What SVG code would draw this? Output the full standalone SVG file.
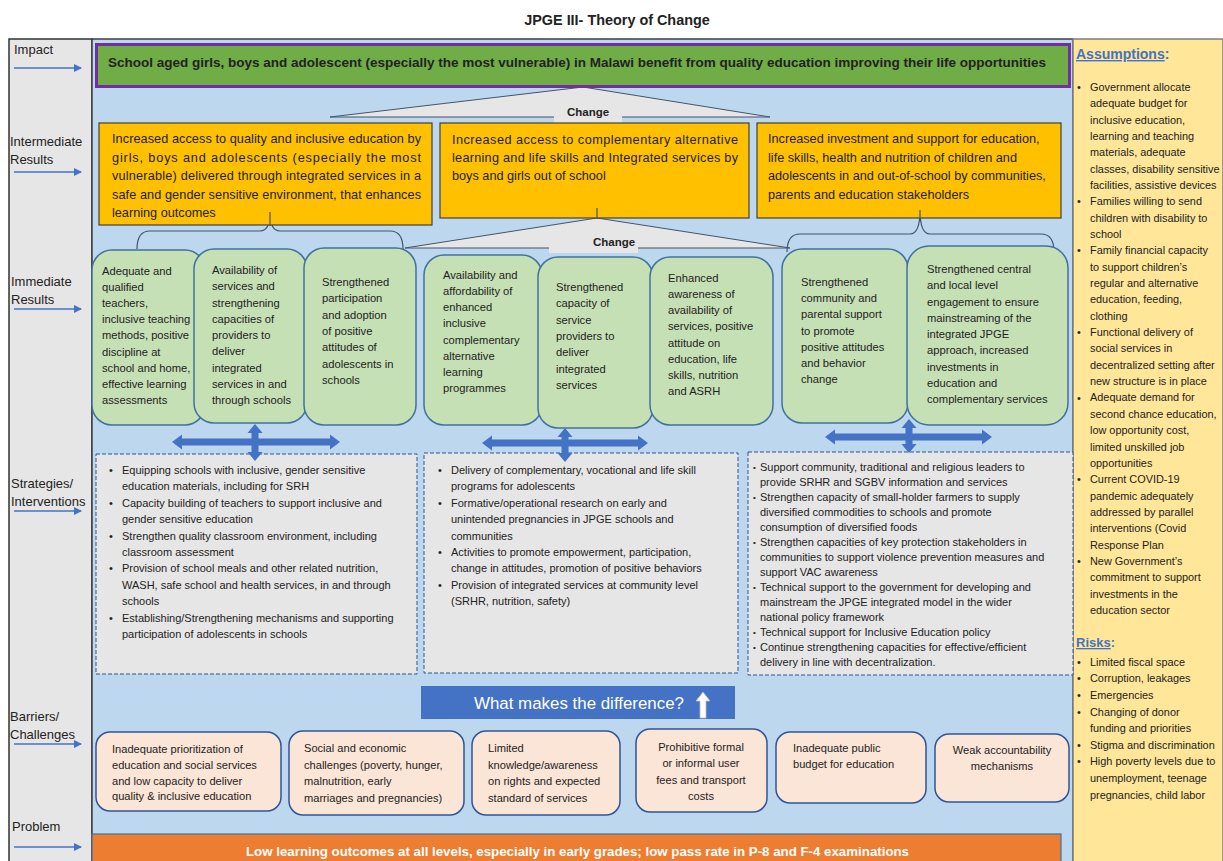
<svg xmlns="http://www.w3.org/2000/svg" width="1223" height="861" viewBox="0 0 1223 861">
<style>
text{font-family:"Liberation Sans",Arial,sans-serif;fill:#222}
.lab{font-size:13px}
.ir{font-size:12.7px}
.g{font-size:11.2px}
.s{font-size:11px}
.a{font-size:10.9px}
.b{font-size:11.1px}
.chg{font-size:11.5px;font-weight:bold}
.green{fill:#C5E0B4;stroke:#41719C;stroke-width:1.5}
.yel{fill:#FFC000;stroke:#404040;stroke-width:1.2}
.dash{fill:#E7E6E6;stroke:#2F5597;stroke-width:1;stroke-dasharray:4 2}
.bar{fill:#FBE5D6;stroke:#2F5597;stroke-width:1.5}
.dbl{fill:#4472C4}
.brace{fill:none;stroke:#44546A;stroke-width:1.2}
.tri{fill:#E7E6E6;stroke:#44546A;stroke-width:1}
.side{stroke:#4472C4;stroke-width:1.5;marker-end:url(#ah)}
.hd{font-weight:bold;fill:#4472C4}
</style>
<defs>
<marker id="ah" markerWidth="8" markerHeight="8" refX="7" refY="4" orient="auto" markerUnits="userSpaceOnUse">
<path d="M0,0 L8,4 L0,8 z" fill="#4472C4"/>
</marker>
</defs>
<rect width="1223" height="861" fill="#fff"/>
<text x="617" y="25" text-anchor="middle" font-size="14.4" font-weight="bold">JPGE III- Theory of Change</text>

<g id="left-panel">
<rect x="9" y="39" width="83" height="830" fill="#E7E6E6" stroke="#333" stroke-width="1.5"/>
<text class="lab" x="14" y="53.5">Impact</text>
<text class="lab" x="10" y="145.5">Intermediate</text>
<text class="lab" x="10" y="163.5">Results</text>
<text class="lab" x="11" y="285.5">Immediate</text>
<text class="lab" x="11" y="303.5">Results</text>
<text class="lab" x="11" y="487.5">Strategies/</text>
<text class="lab" x="11" y="505.5">Interventions</text>
<text class="lab" x="10" y="720.5">Barriers/</text>
<text class="lab" x="10" y="738.5">Challenges</text>
<text class="lab" x="12" y="830.5">Problem</text>
</g>
<rect id="main-panel" x="92" y="39" width="981" height="830" fill="#BDD7EE" stroke="#404040" stroke-width="1.5"/>

<g id="assumptions">
<rect x="1073" y="39" width="150" height="830" fill="#FFE699" stroke="#7F7F7F" stroke-width="1.5"/>
<text x="1076" y="59" font-size="14" class="hd"><tspan text-decoration="underline">Assumptions</tspan>:</text>
<text class="a">
<tspan x="1090" y="90.8">Government allocate</tspan>
<tspan x="1090" dy="16.35">adequate budget for</tspan>
<tspan x="1090" dy="16.35">inclusive education,</tspan>
<tspan x="1090" dy="16.35">learning and teaching</tspan>
<tspan x="1090" dy="16.35">materials, adequate</tspan>
<tspan x="1090" dy="16.35">classes, disability sensitive</tspan>
<tspan x="1090" dy="16.35">facilities, assistive devices</tspan>
<tspan x="1090" dy="16.35">Families willing to send</tspan>
<tspan x="1090" dy="16.35">children with disability to</tspan>
<tspan x="1090" dy="16.35">school</tspan>
<tspan x="1090" dy="16.35">Family financial capacity</tspan>
<tspan x="1090" dy="16.35">to support children’s</tspan>
<tspan x="1090" dy="16.35">regular and alternative</tspan>
<tspan x="1090" dy="16.35">education, feeding,</tspan>
<tspan x="1090" dy="16.35">clothing</tspan>
<tspan x="1090" dy="16.35">Functional delivery of</tspan>
<tspan x="1090" dy="16.35">social services in</tspan>
<tspan x="1090" dy="16.35">decentralized setting after</tspan>
<tspan x="1090" dy="16.35">new structure is in place</tspan>
<tspan x="1090" dy="16.35">Adequate demand for</tspan>
<tspan x="1090" dy="16.35">second chance education,</tspan>
<tspan x="1090" dy="16.35">low opportunity cost,</tspan>
<tspan x="1090" dy="16.35">limited unskilled job</tspan>
<tspan x="1090" dy="16.35">opportunities</tspan>
<tspan x="1090" dy="16.35">Current COVID-19</tspan>
<tspan x="1090" dy="16.35">pandemic adequately</tspan>
<tspan x="1090" dy="16.35">addressed by parallel</tspan>
<tspan x="1090" dy="16.35">interventions (Covid</tspan>
<tspan x="1090" dy="16.35">Response Plan</tspan>
<tspan x="1090" dy="16.35">New Government’s</tspan>
<tspan x="1090" dy="16.35">commitment to support</tspan>
<tspan x="1090" dy="16.35">investments in the</tspan>
<tspan x="1090" dy="16.35">education sector</tspan>
</text>
<text class="a">
<tspan x="1077" y="90.8">•</tspan>
<tspan x="1077" y="205.2">•</tspan>
<tspan x="1077" y="254.3">•</tspan>
<tspan x="1077" y="336.1">•</tspan>
<tspan x="1077" y="401.5">•</tspan>
<tspan x="1077" y="483.2">•</tspan>
<tspan x="1077" y="565">•</tspan>
</text>
<text x="1076" y="647" font-size="13" class="hd"><tspan text-decoration="underline">Risks</tspan>:</text>
<text class="a">
<tspan x="1090" y="665.8">Limited fiscal space</tspan>
<tspan x="1090" dy="16.6">Corruption, leakages</tspan>
<tspan x="1090" dy="16.6">Emergencies</tspan>
<tspan x="1090" dy="16.6">Changing of donor</tspan>
<tspan x="1090" dy="16.6">funding and priorities</tspan>
<tspan x="1090" dy="16.6">Stigma and discrimination</tspan>
<tspan x="1090" dy="16.6">High poverty levels due to</tspan>
<tspan x="1090" dy="16.6">unemployment, teenage</tspan>
<tspan x="1090" dy="16.6">pregnancies, child labor</tspan>
</text>
<text class="a">
<tspan x="1077" y="665.8">•</tspan>
<tspan x="1077" y="682.4">•</tspan>
<tspan x="1077" y="699">•</tspan>
<tspan x="1077" y="715.6">•</tspan>
<tspan x="1077" y="748.8">•</tspan>
<tspan x="1077" y="765.4">•</tspan>
</text>
</g>

<g id="connectors">
<line class="side" x1="14" y1="68" x2="81" y2="68"/>
<line class="side" x1="14" y1="172" x2="81" y2="172"/>
<line class="side" x1="14" y1="309" x2="81" y2="309"/>
<line class="side" x1="14" y1="511" x2="81" y2="511"/>
<line class="side" x1="14" y1="744" x2="81" y2="744"/>
<line class="side" x1="14" y1="847" x2="81" y2="847"/>
<polygon class="tri" points="330,117 583,87 770,117"/>
<rect x="554" y="101" width="68" height="22" fill="#E7E6E6"/>
<polygon class="tri" points="405,248 597,218 790,248"/>
<rect x="549" y="232" width="89" height="21" fill="#E7E6E6"/>
<path class="brace" d="M137,249 Q137,231 150,231 H260 Q270,231 270,212 Q270,231 280,231 H390 Q403,231 403,249"/>
<path class="brace" d="M787,252 Q787,234 800,234 H910 Q920,234 920,210 Q920,234 930,234 H1041 Q1054,234 1054,252"/>
</g>

<g id="impact">
<rect x="96.5" y="44.5" width="973" height="42" fill="#70AD47" stroke="#7030A0" stroke-width="3"/>
<text x="108" y="67" font-size="13" font-weight="bold" textLength="938" lengthAdjust="spacingAndGlyphs">School aged girls, boys and adolescent (especially the most vulnerable) in Malawi benefit from quality education improving their life opportunities</text>
</g>
<text class="chg" x="588" y="115.5" text-anchor="middle">Change</text>

<g id="ir1">
<rect class="yel" x="99" y="123" width="333" height="102"/>
<text class="ir">
<tspan x="112" y="143" textLength="309" lengthAdjust="spacing">Increased access to quality and inclusive education by</tspan>
<tspan x="112" y="161.5" textLength="309" lengthAdjust="spacing">girls, boys and adolescents (especially the most</tspan>
<tspan x="112" y="180" textLength="309" lengthAdjust="spacing">vulnerable) delivered through integrated services in a</tspan>
<tspan x="112" y="198.5" textLength="309" lengthAdjust="spacing">safe and gender sensitive environment, that enhances</tspan>
<tspan x="112" y="217">learning outcomes</tspan>
</text>
</g>
<g id="ir2">
<rect class="yel" x="440" y="123" width="309" height="95"/>
<text class="ir">
<tspan x="452" y="144" textLength="286" lengthAdjust="spacing">Increased access to complementary alternative</tspan>
<tspan x="452" y="162" textLength="286" lengthAdjust="spacing">learning and life skills and Integrated services by</tspan>
<tspan x="452" y="180">boys and girls out of school</tspan>
</text>
</g>
<g id="ir3">
<rect class="yel" x="757" y="123" width="304" height="95"/>
<text class="ir">
<tspan x="768" y="143">Increased investment and support for education,</tspan>
<tspan x="768" y="161.5">life skills, health and nutrition of children and</tspan>
<tspan x="768" y="180">adolescents in and out-of-school by communities,</tspan>
<tspan x="768" y="198.5">parents and education stakeholders</tspan>
</text>
</g>
<g id="brace-ticks">
<line x1="270" y1="212" x2="270" y2="226" stroke="#44546A" stroke-width="1.2"/>
<line x1="920" y1="210" x2="920" y2="219" stroke="#44546A" stroke-width="1.2"/>
<line x1="597" y1="208" x2="597" y2="219" stroke="#44546A" stroke-width="1.2"/>
</g>
<text class="chg" x="593" y="246">Change</text>

<g id="im1">
<rect class="green" x="92" y="250" width="113" height="175" rx="20"/>
<text class="g">
<tspan x="102" y="275">Adequate and</tspan>
<tspan x="102" dy="16.1">qualified</tspan>
<tspan x="102" dy="16.1">teachers,</tspan>
<tspan x="102" dy="16.1">inclusive teaching</tspan>
<tspan x="102" dy="16.1">methods, positive</tspan>
<tspan x="102" dy="16.1">discipline at</tspan>
<tspan x="102" dy="16.1">school and home,</tspan>
<tspan x="102" dy="16.1">effective learning</tspan>
<tspan x="102" dy="16.1">assessments</tspan>
</text>
</g>
<g id="im2">
<rect class="green" x="194" y="249" width="113" height="174" rx="20"/>
<text class="g">
<tspan x="212" y="274">Availability of</tspan>
<tspan x="212" dy="16.25">services and</tspan>
<tspan x="212" dy="16.25">strengthening</tspan>
<tspan x="212" dy="16.25">capacities of</tspan>
<tspan x="212" dy="16.25">providers to</tspan>
<tspan x="212" dy="16.25">deliver</tspan>
<tspan x="212" dy="16.25">integrated</tspan>
<tspan x="212" dy="16.25">services in and</tspan>
<tspan x="212" dy="16.25">through schools</tspan>
</text>
</g>
<g id="im3">
<rect class="green" x="304" y="248" width="112" height="177" rx="20"/>
<text class="g">
<tspan x="322" y="286">Strengthened</tspan>
<tspan x="322" dy="16.3">participation</tspan>
<tspan x="322" dy="16.3">and adoption</tspan>
<tspan x="322" dy="16.3">of positive</tspan>
<tspan x="322" dy="16.3">attitudes of</tspan>
<tspan x="322" dy="16.3">adolescents in</tspan>
<tspan x="322" dy="16.3">schools</tspan>
</text>
</g>
<g id="im4">
<rect class="green" x="424" y="255" width="118" height="170" rx="20"/>
<text class="g">
<tspan x="443" y="279">Availability and</tspan>
<tspan x="443" dy="16.15">affordability of</tspan>
<tspan x="443" dy="16.15">enhanced</tspan>
<tspan x="443" dy="16.15">inclusive</tspan>
<tspan x="443" dy="16.15">complementary</tspan>
<tspan x="443" dy="16.15">alternative</tspan>
<tspan x="443" dy="16.15">learning</tspan>
<tspan x="443" dy="16.15">programmes</tspan>
</text>
</g>
<g id="im5">
<rect class="green" x="538" y="257" width="115" height="171" rx="20"/>
<text class="g">
<tspan x="556" y="291">Strengthened</tspan>
<tspan x="556" dy="16.3">capacity of</tspan>
<tspan x="556" dy="16.3">service</tspan>
<tspan x="556" dy="16.3">providers to</tspan>
<tspan x="556" dy="16.3">deliver</tspan>
<tspan x="556" dy="16.3">integrated</tspan>
<tspan x="556" dy="16.3">services</tspan>
</text>
</g>
<g id="im6">
<rect class="green" x="650" y="257" width="123" height="168" rx="20"/>
<text class="g">
<tspan x="668" y="282">Enhanced</tspan>
<tspan x="668" dy="16.15">awareness of</tspan>
<tspan x="668" dy="16.15">availability of</tspan>
<tspan x="668" dy="16.15">services, positive</tspan>
<tspan x="668" dy="16.15">attitude on</tspan>
<tspan x="668" dy="16.15">education, life</tspan>
<tspan x="668" dy="16.15">skills, nutrition</tspan>
<tspan x="668" dy="16.15">and ASRH</tspan>
</text>
</g>
<g id="im7">
<rect class="green" x="782" y="249" width="126" height="174" rx="20"/>
<text class="g">
<tspan x="801" y="286">Strengthened</tspan>
<tspan x="801" dy="16.2">community and</tspan>
<tspan x="801" dy="16.2">parental support</tspan>
<tspan x="801" dy="16.2">to promote</tspan>
<tspan x="801" dy="16.2">positive attitudes</tspan>
<tspan x="801" dy="16.2">and behavior</tspan>
<tspan x="801" dy="16.2">change</tspan>
</text>
</g>
<g id="im8">
<rect class="green" x="907" y="246" width="161" height="179" rx="22"/>
<text class="g">
<tspan x="927" y="273">Strengthened central</tspan>
<tspan x="927" dy="16.25">and local level</tspan>
<tspan x="927" dy="16.25">engagement to ensure</tspan>
<tspan x="927" dy="16.25">mainstreaming of the</tspan>
<tspan x="927" dy="16.25">integrated JPGE</tspan>
<tspan x="927" dy="16.25">approach, increased</tspan>
<tspan x="927" dy="16.25">investments in</tspan>
<tspan x="927" dy="16.25">education and</tspan>
<tspan x="927" dy="16.25">complementary services</tspan>
</text>
</g>

<g id="st1">
<rect class="dash" x="96" y="454" width="321" height="220"/>
<text class="s">
<tspan x="122" y="474">Equipping schools with inclusive, gender sensitive</tspan>
<tspan x="122" dy="16.4">education materials, including for SRH</tspan>
<tspan x="122" dy="16.4">Capacity building of teachers to support inclusive and</tspan>
<tspan x="122" dy="16.4">gender sensitive education</tspan>
<tspan x="122" dy="16.4">Strengthen quality classroom environment, including</tspan>
<tspan x="122" dy="16.4">classroom assessment</tspan>
<tspan x="122" dy="16.4">Provision of school meals and other related nutrition,</tspan>
<tspan x="122" dy="16.4">WASH, safe school and health services, in and through</tspan>
<tspan x="122" dy="16.4">schools</tspan>
<tspan x="122" dy="16.4">Establishing/Strengthening mechanisms and supporting</tspan>
<tspan x="122" dy="16.4">participation of adolescents in schools</tspan>
</text>
<text class="s">
<tspan x="109" y="474">•</tspan>
<tspan x="109" y="506.8">•</tspan>
<tspan x="109" y="539.6">•</tspan>
<tspan x="109" y="572.4">•</tspan>
<tspan x="109" y="621.6">•</tspan>
</text>
</g>
<g id="st2">
<rect class="dash" x="424" y="453" width="314" height="220"/>
<text class="s">
<tspan x="451" y="474">Delivery of complementary, vocational and life skill</tspan>
<tspan x="451" dy="16.4">programs for adolescents</tspan>
<tspan x="451" dy="16.4">Formative/operational research on early and</tspan>
<tspan x="451" dy="16.4">unintended pregnancies in JPGE schools and</tspan>
<tspan x="451" dy="16.4">communities</tspan>
<tspan x="451" dy="16.4">Activities to promote empowerment, participation,</tspan>
<tspan x="451" dy="16.4">change in attitudes, promotion of positive behaviors</tspan>
<tspan x="451" dy="16.4">Provision of integrated services at community level</tspan>
<tspan x="451" dy="16.4">(SRHR, nutrition, safety)</tspan>
</text>
<text class="s">
<tspan x="438" y="474">•</tspan>
<tspan x="438" y="506.8">•</tspan>
<tspan x="438" y="556">•</tspan>
<tspan x="438" y="588.8">•</tspan>
</text>
</g>
<g id="st3">
<rect class="dash" x="748" y="452" width="325" height="223"/>
<text class="s">
<tspan x="760" y="471">Support community, traditional and religious leaders to</tspan>
<tspan x="760" dy="15">provide SRHR and SGBV information and services</tspan>
<tspan x="760" dy="15">Strengthen capacity of small-holder farmers to supply</tspan>
<tspan x="760" dy="15">diversified commodities to schools and promote</tspan>
<tspan x="760" dy="15">consumption of diversified foods</tspan>
<tspan x="760" dy="15">Strengthen capacities of key protection stakeholders in</tspan>
<tspan x="760" dy="15">communities to support violence prevention measures and</tspan>
<tspan x="760" dy="15">support VAC awareness</tspan>
<tspan x="760" dy="15">Technical support to the government for developing and</tspan>
<tspan x="760" dy="15">mainstream the JPGE integrated model in the wider</tspan>
<tspan x="760" dy="15">national policy framework</tspan>
<tspan x="760" dy="15">Technical support for Inclusive Education policy</tspan>
<tspan x="760" dy="15">Continue strengthening capacities for effective/efficient</tspan>
<tspan x="760" dy="15">delivery in line with decentralization.</tspan>
</text>
<text font-size="8">
<tspan x="753" y="470">•</tspan>
<tspan x="753" y="500">•</tspan>
<tspan x="753" y="545">•</tspan>
<tspan x="753" y="590">•</tspan>
<tspan x="753" y="635">•</tspan>
<tspan x="753" y="650">•</tspan>
</text>
</g>

<g id="double-arrows">
<polygon class="dbl" points="172,442 182,434.5 182,438.5 330,438.5 330,434.5 340,442 330,449.5 330,445.5 182,445.5 182,449.5"/>
<polygon class="dbl" points="255,424 262.5,433 258.5,433 258.5,452 262.5,452 255,461 247.5,452 251.5,452 251.5,433 247.5,433"/>
<polygon class="dbl" points="482,443 492,435.5 492,439.5 638,439.5 638,435.5 648,443 638,450.5 638,446.5 492,446.5 492,450.5"/>
<polygon class="dbl" points="565,428 572.5,437 568.5,437 568.5,453 572.5,453 565,462 557.5,453 561.5,453 561.5,437 557.5,437"/>
<polygon class="dbl" points="825,437 835,429.5 835,433.5 982,433.5 982,429.5 992,437 982,444.5 982,440.5 835,440.5 835,444.5"/>
<polygon class="dbl" points="909,419 916.5,428 912.5,428 912.5,444 916.5,444 909,453 901.5,444 905.5,444 905.5,428 901.5,428"/>
</g>

<g id="difference">
<rect x="421" y="686" width="314" height="33" fill="#4472C4"/>
<text x="474" y="709" font-size="16.9" style="fill:#fff">What makes the difference?</text>
<polygon points="703,692 710,701 706,701 706,718 700,718 700,701 696,701" fill="#fff" stroke="#bbb" stroke-width="0.8"/>
</g>

<g id="b1">
<rect class="bar" x="96" y="732" width="185" height="79" rx="14"/>
<text class="b"><tspan x="112" y="753">Inadequate prioritization of</tspan><tspan x="112" dy="15.8">education and social services</tspan><tspan x="112" dy="15.8">and low capacity to deliver</tspan><tspan x="112" dy="15.8">quality &amp; inclusive education</tspan></text>
</g>
<g id="b2">
<rect class="bar" x="289" y="731" width="175" height="84" rx="14"/>
<text class="b"><tspan x="304" y="752">Social and economic</tspan><tspan x="304" dy="16.5">challenges (poverty, hunger,</tspan><tspan x="304" dy="16.5">malnutrition, early</tspan><tspan x="304" dy="16.5">marriages and pregnancies)</tspan></text>
</g>
<g id="b3">
<rect class="bar" x="472" y="731" width="148" height="84" rx="14"/>
<text class="b"><tspan x="488" y="752">Limited</tspan><tspan x="488" dy="16.5">knowledge/awareness</tspan><tspan x="488" dy="16.5">on rights and expected</tspan><tspan x="488" dy="16.5">standard of services</tspan></text>
</g>
<g id="b4">
<rect class="bar" x="636" y="729" width="131" height="83" rx="14"/>
<text class="b" text-anchor="middle"><tspan x="701" y="751">Prohibitive formal</tspan><tspan x="701" dy="16.3">or informal user</tspan><tspan x="701" dy="16.3">fees and transport</tspan><tspan x="701" dy="16.3">costs</tspan></text>
</g>
<g id="b5">
<rect class="bar" x="776" y="732" width="150" height="71" rx="14"/>
<text class="b"><tspan x="793" y="752">Inadequate public</tspan><tspan x="793" dy="16">budget for education</tspan></text>
</g>
<g id="b6">
<rect class="bar" x="935" y="734" width="134" height="68" rx="14"/>
<text class="b" text-anchor="middle"><tspan x="1002" y="754">Weak accountability</tspan><tspan x="1002" dy="16">mechanisms</tspan></text>
</g>

<g id="problem">
<rect x="92" y="834" width="969" height="35" fill="#ED7D31" stroke="#41719C" stroke-width="1.2"/>
<text x="246" y="856" font-size="12" font-weight="bold" style="fill:#fff" textLength="663" lengthAdjust="spacingAndGlyphs">Low learning outcomes at all levels, especially in early grades; low pass rate in P-8 and F-4 examinations</text>
</g>
</svg>
